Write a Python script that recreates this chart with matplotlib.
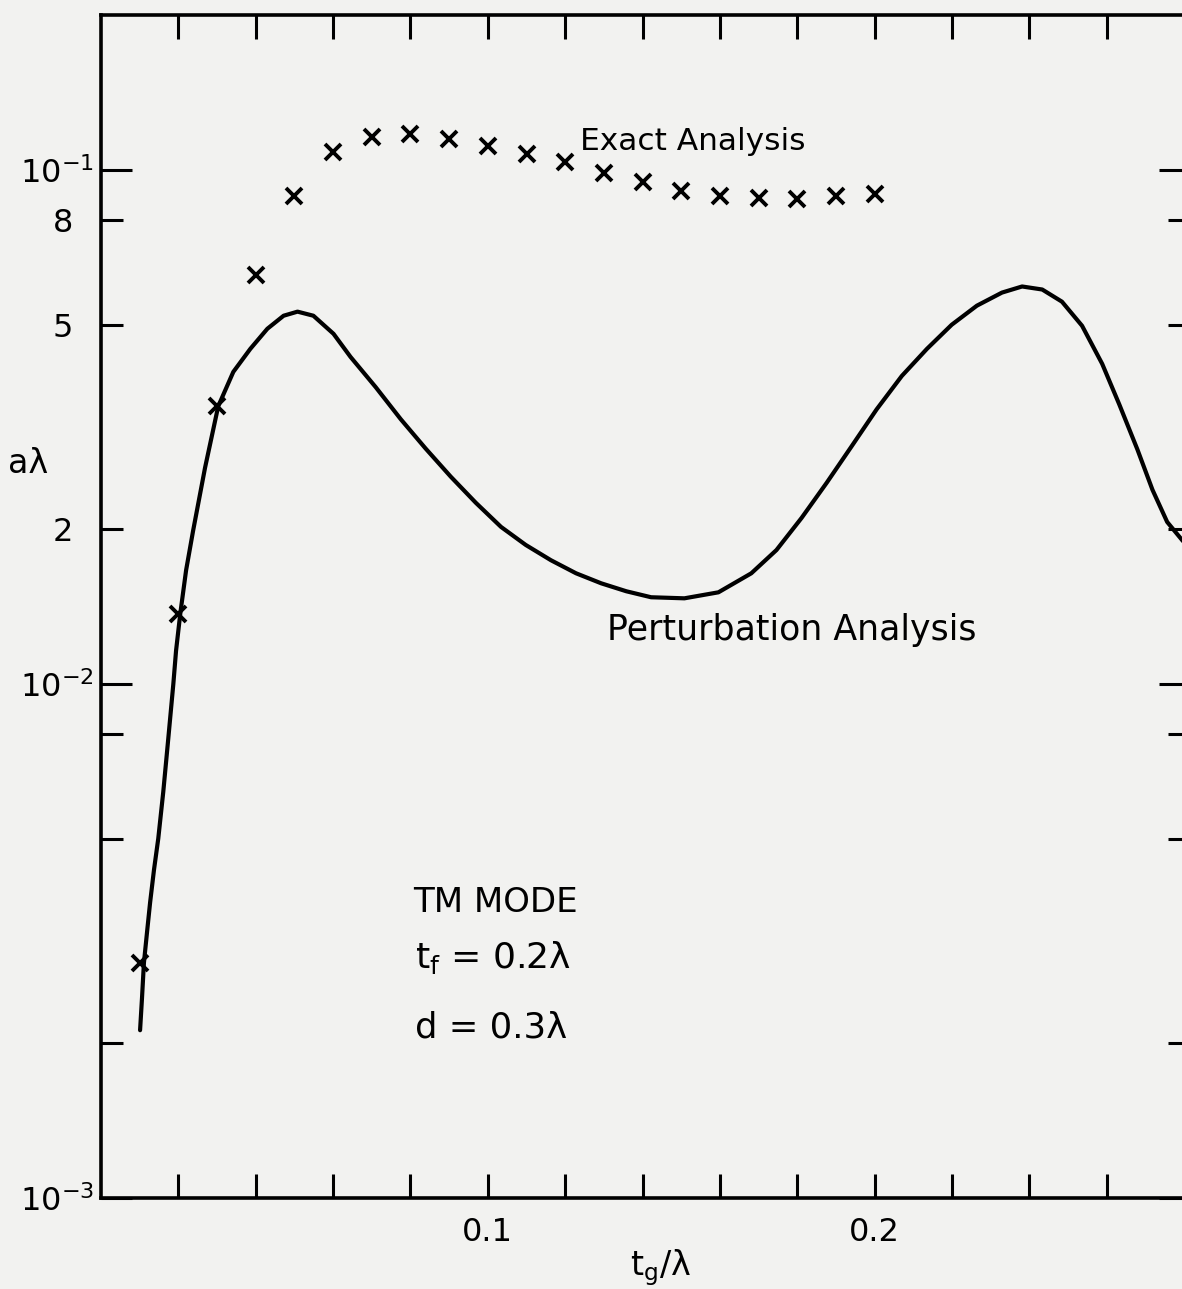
import matplotlib
matplotlib.use('Agg')
import matplotlib.pyplot as plt
import numpy as np

plt.rcParams['font.family'] = ['DejaVu Sans']
plt.rcParams['mathtext.fontset'] = 'dejavusans'
plt.rcParams['mathtext.default'] = 'regular'

# 精确解 (x 标记)
tg_exact = [0.01, 0.02, 0.03, 0.04, 0.05, 0.06, 0.07, 0.08, 0.09, 0.10,
            0.11, 0.12, 0.13, 0.14, 0.15, 0.16, 0.17, 0.18, 0.19, 0.20]
a_exact = [0.00287, 0.0137, 0.0347, 0.0623, 0.0889, 0.1084, 0.1160, 0.1176,
           0.1150, 0.1114, 0.1075, 0.1037, 0.0987, 0.0947, 0.0910, 0.0889,
           0.0882, 0.0878, 0.0889, 0.0897]

# 微扰解 (曲线)
tg_pert = [0.0101, 0.0106, 0.0111, 0.0119, 0.0127, 0.0137, 0.0148, 0.0161,
           0.0174, 0.0187, 0.0194, 0.0205, 0.0220, 0.0238, 0.0269, 0.0303,
           0.0342, 0.0386, 0.0430, 0.0472, 0.0508, 0.0549, 0.0601, 0.0645,
           0.0710, 0.0775, 0.0839, 0.0904, 0.0969, 0.1034, 0.1098, 0.1163,
           0.1228, 0.1293, 0.1358, 0.1422, 0.1508, 0.1596, 0.1681, 0.1746,
           0.1811, 0.1876, 0.1940, 0.2005, 0.2070, 0.2135, 0.2199, 0.2264,
           0.2329, 0.2381, 0.2433, 0.2484, 0.2536, 0.2588, 0.2632, 0.2679,
           0.2718, 0.2756, 0.2801]
a_pert = [0.00212, 0.00245, 0.00287, 0.00329, 0.00376, 0.00435, 0.00500,
          0.00617, 0.00784, 0.01000, 0.01160, 0.01371, 0.01664, 0.01984,
          0.02634, 0.03467, 0.04044, 0.04484, 0.04906, 0.05201, 0.05297,
          0.05201, 0.04797, 0.04325, 0.03778, 0.03271, 0.02870, 0.02530,
          0.02250, 0.02020, 0.01863, 0.01740, 0.01641, 0.01569, 0.01514,
          0.01474, 0.01467, 0.01507, 0.01641, 0.01821, 0.02103, 0.02462,
          0.02896, 0.03420, 0.03971, 0.04484, 0.04995, 0.05440, 0.05769,
          0.05929, 0.05849, 0.05539, 0.04972, 0.04193, 0.03499, 0.02858,
          0.02385, 0.02065, 0.01879]

# 坐标轴刻度
x_major = [0.1, 0.2]
x_major_labels = ['0.1', '0.2']
x_minor = [0.02, 0.04, 0.06, 0.08, 0.12, 0.14, 0.16, 0.18, 0.22, 0.24, 0.26]
y_major = [1e-3, 1e-2, 1e-1]
y_major_labels = [r'$10^{-3}$', r'$10^{-2}$', r'$10^{-1}$']
y_minor = [2e-3, 5e-3, 8e-3, 2e-2, 5e-2, 8e-2]
y_minor_labels = ['', '', '', '2', '5', '8']

W, H = 1182, 1289
bg = '#f2f2f0'
fig = plt.figure(figsize=(W / 100, H / 100), dpi=100, facecolor=bg)
ax = fig.add_axes([101 / W, 1 - 1198 / H, (1190 - 101) / W, (1198 - 15) / H])
ax.set_facecolor(bg)

ax.plot(tg_pert, a_pert, color='black', lw=3.0, solid_capstyle='round',
        solid_joinstyle='round')
ax.plot(tg_exact, a_exact, linestyle='none', marker='x', color='black',
        ms=12, mew=2.8)

ax.set_yscale('log')
ax.set_xlim(0, 0.2815)
ax.set_ylim(1e-3, 0.2)

ax.set_xticks(x_major)
ax.set_xticklabels(x_major_labels)
ax.set_xticks(x_minor, minor=True)
ax.set_yticks(y_major)
ax.set_yticklabels(y_major_labels)
ax.set_yticks(y_minor, minor=True)
ax.set_yticklabels(y_minor_labels, minor=True)

for s in ax.spines.values():
    s.set_linewidth(2.6)

ax.tick_params(axis='x', which='both', direction='in', top=True, bottom=True,
               length=17, width=2.2, labelsize=23, pad=14)
ax.tick_params(axis='y', which='major', direction='in', left=True, right=True,
               length=22, width=2.2, labelsize=23, pad=5)
ax.tick_params(axis='y', which='minor', direction='in', left=True, right=True,
               length=16, width=2.2, labelsize=23, pad=20)


def ftext(px, py, s, **kw):
    fig.text(px / W, 1 - py / H, s, va='center', **kw)


ftext(580, 142, 'Exact Analysis', fontsize=22.5)
ftext(607, 630, 'Perturbation Analysis', fontsize=25)
ftext(413, 902, 'TM MODE', fontsize=24.5)
ftext(415, 958, r'$t_f$ = 0.2λ', fontsize=26)
ftext(415, 1028, 'd = 0.3λ', fontsize=25.5)
ftext(8, 463, 'aλ', fontsize=24)
ftext(630, 1268, r'$t_g$/λ', fontsize=24)

fig.savefig('out.png', dpi=100, facecolor=bg)
